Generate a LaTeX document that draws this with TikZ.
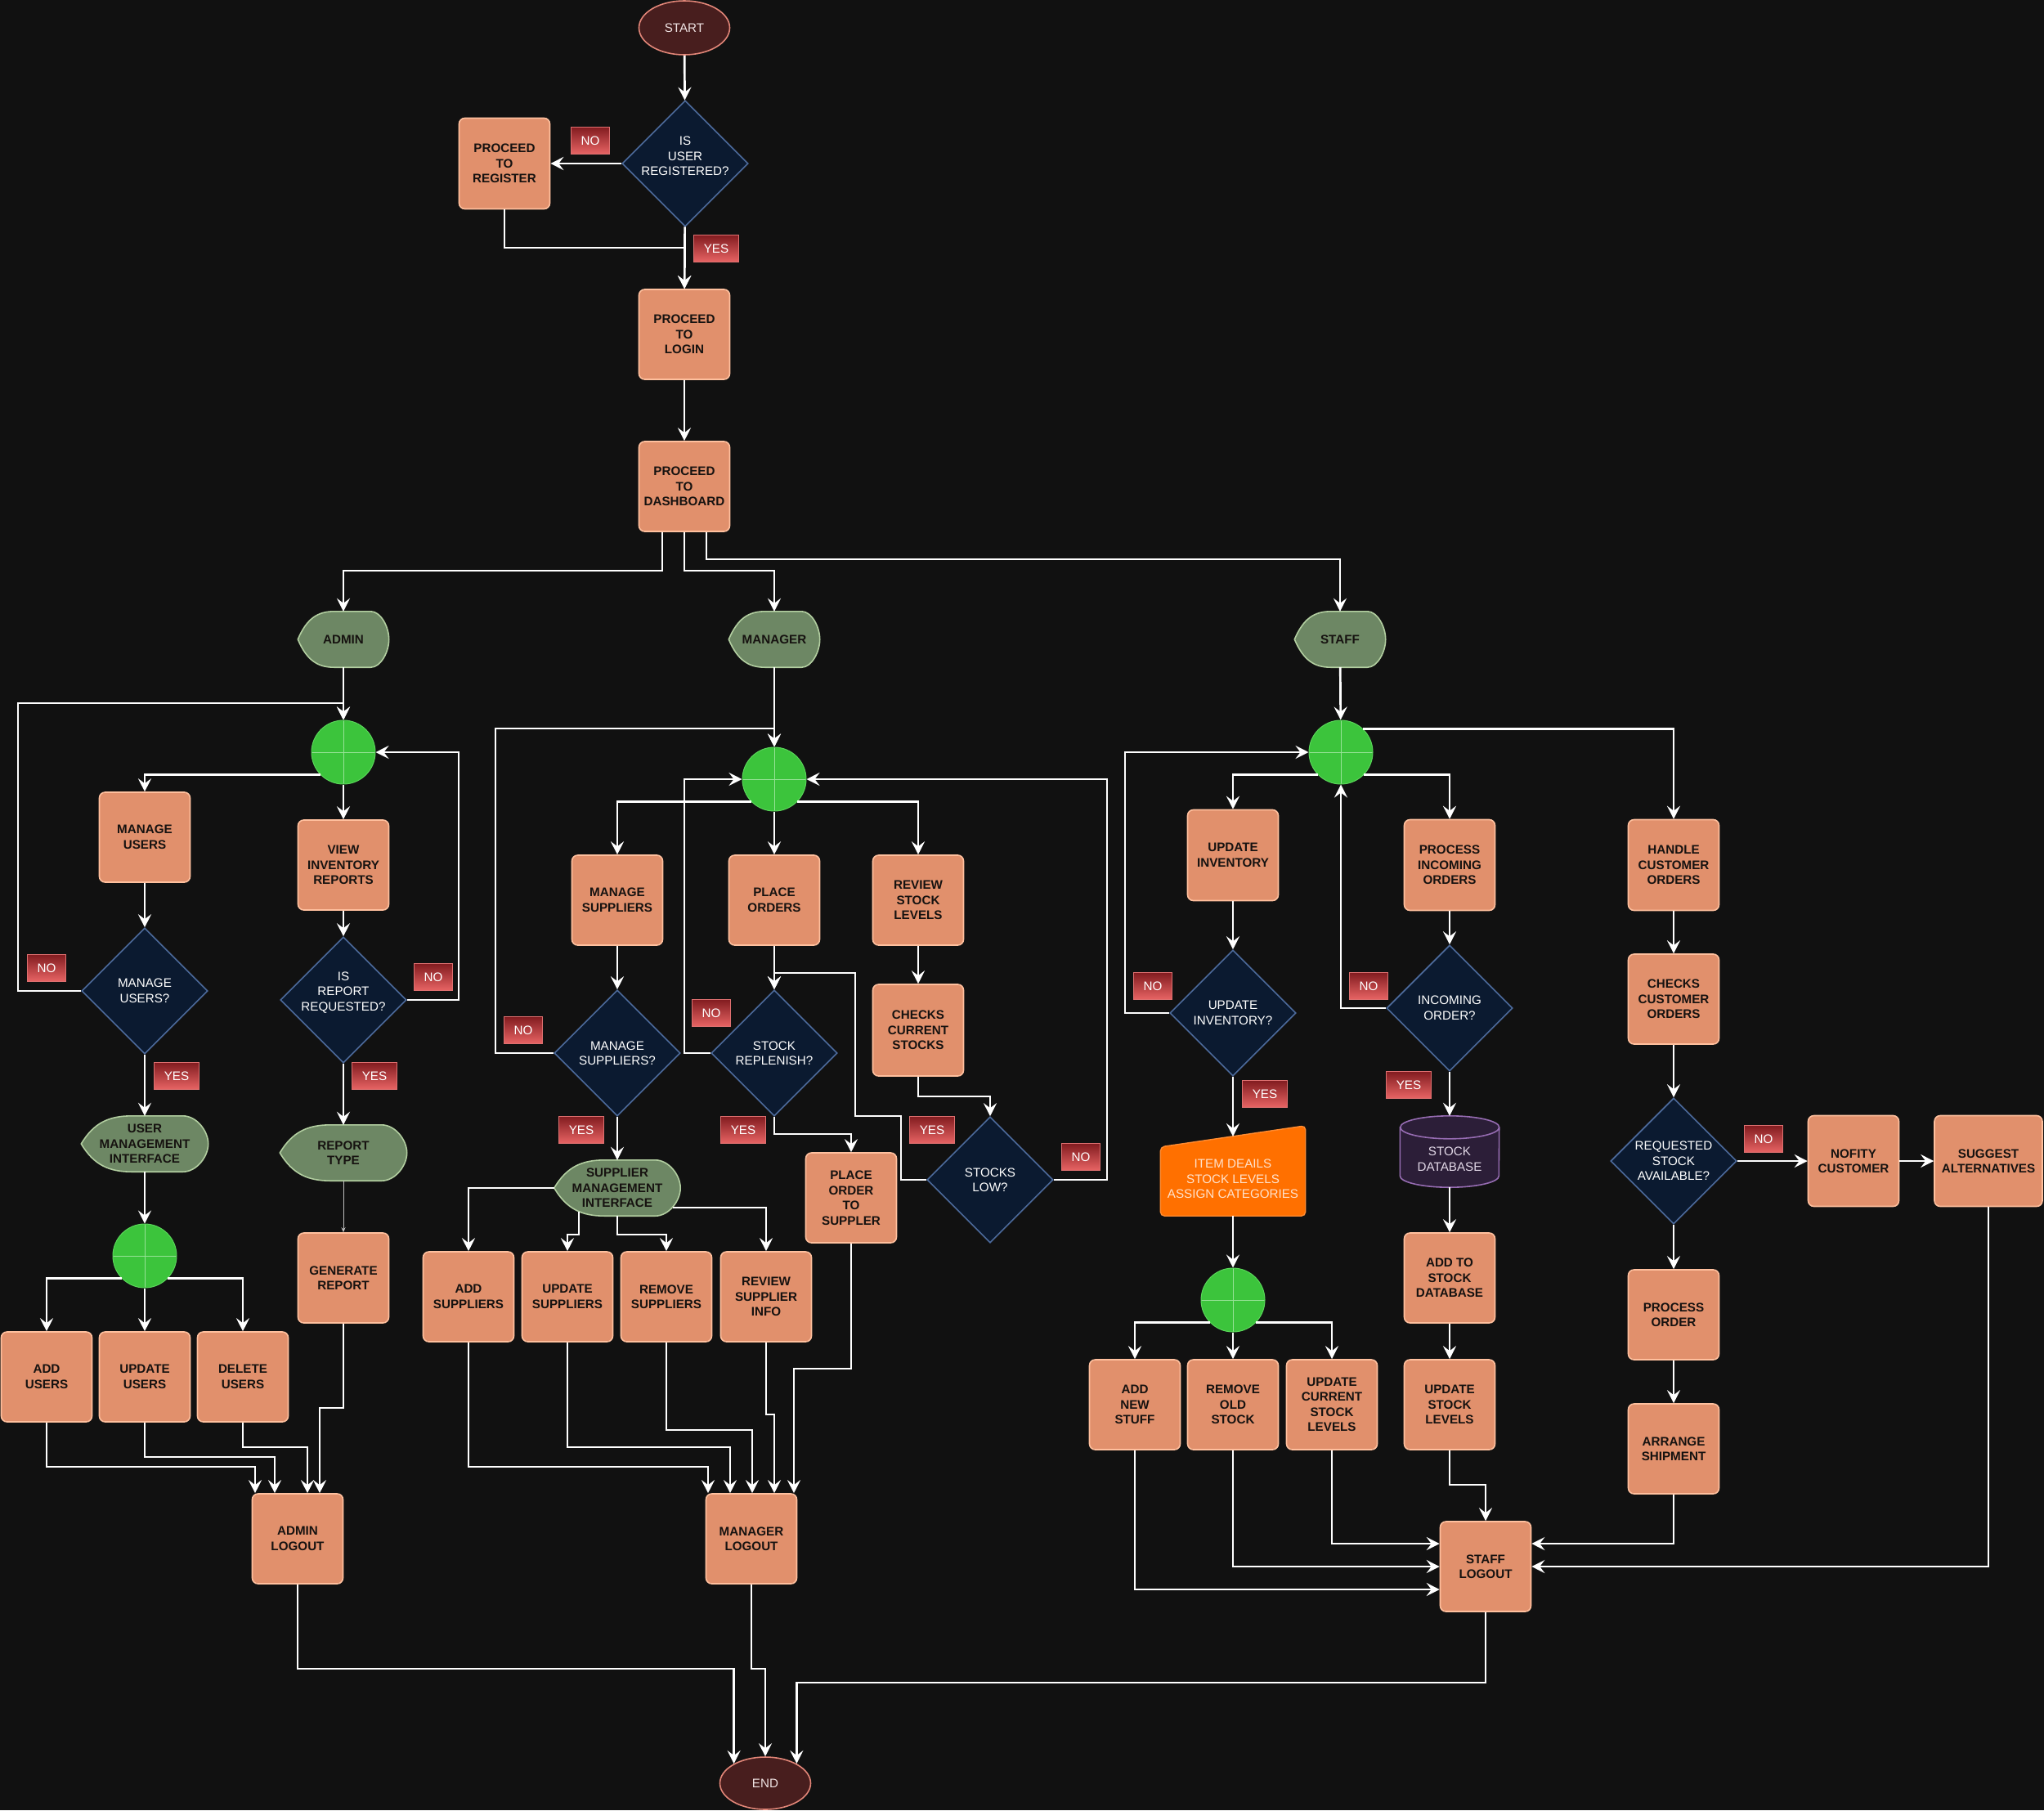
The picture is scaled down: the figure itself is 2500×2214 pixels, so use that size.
\documentclass[tikz,border=0pt]{standalone}
\usepackage{fontspec}
\setmainfont{Liberation Sans}
\usetikzlibrary{shapes.geometric,arrows.meta,calc}

\definecolor{bgdark}{RGB}{17,17,17}
\definecolor{boxfill}{RGB}{225,144,108}
\definecolor{boxedge}{RGB}{255,192,158}
\definecolor{boxink}{RGB}{22,18,16}
\definecolor{qfill}{RGB}{11,26,48}
\definecolor{qedge}{RGB}{76,106,155}
\definecolor{dispfill}{RGB}{109,135,100}
\definecolor{dispedge}{RGB}{178,206,160}
\definecolor{tagtop}{RGB}{130,28,32}
\definecolor{tagbot}{RGB}{232,100,100}
\definecolor{tagedge}{RGB}{222,112,112}
\definecolor{termfill}{RGB}{72,30,30}
\definecolor{termedge}{RGB}{226,134,120}
\definecolor{termink}{RGB}{240,228,228}
\definecolor{hubfill}{RGB}{60,196,60}
\definecolor{hubedge}{RGB}{90,214,90}
\definecolor{hubcross}{RGB}{150,226,150}
\definecolor{itemfill}{RGB}{255,112,0}
\definecolor{itemedge}{RGB}{255,140,50}
\definecolor{itemink}{RGB}{255,226,204}
\definecolor{dbfill}{RGB}{44,30,56}
\definecolor{dbedge}{RGB}{150,108,178}
\definecolor{dbink}{RGB}{225,215,230}

\pgfdeclarelayer{bg}
\pgfdeclarelayer{shapes}
\pgfsetlayers{bg,shapes,main}

\tikzset{
  every node/.style={font=\fontsize{15.2}{18.5}\selectfont, inner sep=0pt},
  box/.style={rectangle, rounded corners=7pt, draw=boxedge, fill=boxfill, line width=1.6pt,
    minimum width=111pt, minimum height=110pt, align=center, text=boxink,
    font=\fontsize{15.2}{18.5}\selectfont\bfseries},
  query/.style={diamond, minimum width=154pt, minimum height=154pt, draw=qedge, fill=qfill, line width=1.6pt},
  qtext/.style={text=white, align=center},
  disp/.style={rectangle, minimum width=111pt, minimum height=68pt, align=center, text=boxink,
    font=\fontsize{15.2}{18.5}\selectfont\bfseries},
  dispshape/.style={draw=dispedge, fill=dispfill, line width=1.6pt},
  hub/.style={circle, minimum size=78pt, draw=hubedge, fill=hubfill, line width=1pt,
    path picture={\draw[hubcross, line width=1pt]
      (path picture bounding box.north) -- (path picture bounding box.south)
      (path picture bounding box.west) -- (path picture bounding box.east);}},
  term/.style={ellipse, minimum width=111pt, minimum height=66pt, draw=termedge, fill=termfill,
    line width=1.6pt, text=termink},
  tag/.style={rectangle, draw=tagedge, line width=1pt, top color=tagtop, bottom color=tagbot,
    minimum height=33pt, inner xsep=12pt, text=white},
  itembox/.style={rectangle, minimum width=177pt, minimum height=90pt, align=center, text=itemink},
  itemshape/.style={draw=itemedge, fill=itemfill, line width=1.4pt, rounded corners=5pt},
  dbbox/.style={rectangle, minimum width=121pt, minimum height=87pt},
  dbtext/.style={text=dbink, align=center, yshift=-9pt},
  dbshape/.style={draw=dbedge, fill=dbfill, line width=1.6pt},
  flow/.style={draw=white, line width=2.7pt, -{Stealth[length=16pt,width=16pt,inset=6pt]}},
  thinflow/.style={draw=white!75!black, line width=0.8pt, -{Stealth[length=6pt,width=5pt]}},
}

\begin{document}
\begin{tikzpicture}[x=1pt, y=-1pt]
  \useasboundingbox (0,0) rectangle (2500,2214);
  \begin{pgfonlayer}{bg}
    \fill[bgdark] (0,0) rectangle (2500,2214);
  \end{pgfonlayer}

  \node[term] (start) at (837,34) {START};
  \node[query, label={[qtext, yshift=9pt]center:{IS\\USER\\REGISTERED?}}] (isreg) at (838,200) {};
  \node[box, minimum height=111pt] (register) at (617,200) {PROCEED\\TO\\REGISTER};
  \node[box] (login) at (837,409) {PROCEED\\TO\\LOGIN};
  \node[box] (dash) at (837,595) {PROCEED\\TO\\DASHBOARD};
  \node[tag] (noreg) at (722,172) {NO};
  \node[tag] (yesreg) at (876,304) {YES};

  \node[disp] (admin) at (420,782) {ADMIN};
  \node[hub] (adminc) at (420,920) {};
  \node[box] (musers) at (177,1024) {MANAGE\\USERS};
  \node[box] (viewrep) at (420,1058) {VIEW\\INVENTORY\\REPORTS};
  \node[query, label={[qtext]center:{MANAGE\\USERS?}}] (musersq) at (177,1212) {};
  \node[query, label={[qtext, yshift=9pt]center:{IS\\REPORT\\REQUESTED?}}] (repq) at (420,1223) {};
  \node[tag] (nomu) at (57,1184) {NO};
  \node[tag] (norep) at (530,1195) {NO};
  \node[tag] (yesmu) at (216,1316) {YES};
  \node[tag] (yesrep) at (458,1316) {YES};
  \node[disp, minimum width=155pt] (umi) at (177,1399) {USER\\MANAGEMENT\\INTERFACE};
  \node[disp, minimum width=155pt] (rtype) at (420,1410) {REPORT\\TYPE};
  \node[hub] (userc) at (177,1536) {};
  \node[box] (addu) at (57,1684) {ADD\\USERS};
  \node[box] (updu) at (177,1684) {UPDATE\\USERS};
  \node[box] (delu) at (297,1684) {DELETE\\USERS};
  \node[box] (genrep) at (420,1563) {GENERATE\\REPORT};
  \node[box] (alogout) at (364,1882) {ADMIN\\LOGOUT};

  \node[disp] (manager) at (947,782) {MANAGER};
  \node[hub] (mgrc) at (947,953) {};
  \node[box] (msup) at (755,1101) {MANAGE\\SUPPLIERS};
  \node[box] (porders) at (947,1101) {PLACE\\ORDERS};
  \node[box] (revstock) at (1123,1101) {REVIEW\\STOCK\\LEVELS};
  \node[query, label={[qtext]center:{MANAGE\\SUPPLIERS?}}] (msupq) at (755,1288) {};
  \node[query, label={[qtext]center:{STOCK\\REPLENISH?}}] (replq) at (947,1288) {};
  \node[box, minimum height=112pt] (checks) at (1123,1260) {CHECKS\\CURRENT\\STOCKS};
  \node[query, label={[qtext]center:{STOCKS\\LOW?}}] (lowq) at (1211,1443) {};
  \node[tag] (nomsup) at (640,1260) {NO};
  \node[tag] (norepl) at (870,1239) {NO};
  \node[tag] (nolow) at (1322,1415) {NO};
  \node[tag] (yesmsup) at (711,1382) {YES};
  \node[tag] (yesrepl) at (909,1382) {YES};
  \node[tag] (yeslow) at (1140,1382) {YES};
  \node[disp, minimum width=154pt] (smi) at (755,1453) {SUPPLIER\\MANAGEMENT\\INTERFACE};
  \node[box] (porder) at (1041,1465) {PLACE\\ORDER\\TO\\SUPPLER};
  \node[box] (addsup) at (573,1586) {ADD\\SUPPLIERS};
  \node[box] (updsup) at (694,1586) {UPDATE\\SUPPLIERS};
  \node[box] (remsup) at (815,1586) {REMOVE\\SUPPLIERS};
  \node[box] (revsup) at (937,1586) {REVIEW\\SUPPLIER\\INFO};
  \node[box] (mlogout) at (919,1882) {MANAGER\\LOGOUT};

  \node[disp] (staff) at (1639,782) {STAFF};
  \node[hub] (staffc) at (1640,920) {};
  \node[box, minimum height=111pt] (updinv) at (1508,1046) {UPDATE\\INVENTORY};
  \node[box, minimum height=111pt] (procin) at (1773,1058) {PROCESS\\INCOMING\\ORDERS};
  \node[box, minimum height=111pt] (handle) at (2047,1058) {HANDLE\\CUSTOMER\\ORDERS};
  \node[query, label={[qtext]center:{UPDATE\\INVENTORY?}}] (updinvq) at (1508,1239) {};
  \node[query, label={[qtext]center:{INCOMING\\ORDER?}}] (inq) at (1773,1233) {};
  \node[tag] (noinv) at (1410,1206) {NO};
  \node[tag] (noin) at (1674,1206) {NO};
  \node[tag] (yesinv) at (1547,1338) {YES};
  \node[tag] (yesin) at (1723,1327) {YES};
  \coordinate (itemtop) at (1508,1390);
  \node[itembox] (items) at (1508,1442) {ITEM DEAILS\\STOCK LEVELS\\ASSIGN CATEGORIES};
  \node[hub] (stockc) at (1508,1590) {};
  \node[box] (addnew) at (1388,1718) {ADD\\NEW\\STUFF};
  \node[box] (remold) at (1508,1718) {REMOVE\\OLD\\STOCK};
  \node[box] (updcur) at (1629,1718) {UPDATE\\CURRENT\\STOCK\\LEVELS};
  \node[dbbox, label={[dbtext]center:{STOCK\\DATABASE}}] (sdb) at (1773,1408.5) {};
  \node[box] (addsdb) at (1773,1563) {ADD TO\\STOCK\\DATABASE};
  \node[box] (updsl) at (1773,1718) {UPDATE\\STOCK\\LEVELS};
  \node[box] (slogout) at (1817,1916) {STAFF\\LOGOUT};
  \node[box] (checkc) at (2047,1222) {CHECKS\\CUSTOMER\\ORDERS};
  \node[query, label={[qtext]center:{REQUESTED\\STOCK\\AVAILABLE?}}] (availq) at (2047,1420) {};
  \node[tag] (noavail) at (2157,1393) {NO};
  \node[box, minimum height=111pt] (notify) at (2267,1420) {NOFITY\\CUSTOMER};
  \node[box, minimum width=132pt, minimum height=111pt] (suggest) at (2432,1420) {SUGGEST\\ALTERNATIVES};
  \node[box] (procord) at (2047,1608) {PROCESS\\ORDER};
  \node[box] (arrange) at (2047,1772) {ARRANGE\\SHIPMENT};

  \node[term, minimum height=64pt] (end) at (936,2181) {END};

  \begin{pgfonlayer}{shapes}
    \foreach \n in {admin,manager,staff,umi,rtype,smi}{
      \draw[dispshape] (\n.west)
        .. controls ($(\n.west)!0.7!(\n.north west)!0.2!(\n.north)$) and ($(\n.north west)!0.22!(\n.north east)$) .. ($(\n.north west)!0.4!(\n.north east)$)
        -- ($(\n.north west)!0.8!(\n.north east)$)
        .. controls ($(\n.north west)!0.91!(\n.north east)$) and ($(\n.north east)!0.55!(\n.east)$) .. (\n.east)
        .. controls ($(\n.south east)!0.55!(\n.east)$) and ($(\n.south west)!0.91!(\n.south east)$) .. ($(\n.south west)!0.8!(\n.south east)$)
        -- ($(\n.south west)!0.4!(\n.south east)$)
        .. controls ($(\n.south west)!0.22!(\n.south east)$) and ($(\n.west)!0.7!(\n.south west)!0.2!(\n.south)$) .. (\n.west) -- cycle;
    }
    \draw[itemshape] (items.south west) -- (items.south east) -- ([yshift=20pt]items.north east)
      -- ([yshift=-6pt]items.north west) -- cycle;
    \draw[dbshape] ([yshift=-14pt]sdb.north west) -- ([yshift=14pt]sdb.south west)
      arc[start angle=180, end angle=360, x radius=60.5pt, y radius=14pt]
      -- ([yshift=-14pt]sdb.north east)
      arc[start angle=0, end angle=180, x radius=60.5pt, y radius=14pt] -- cycle;
    \draw[dbshape, fill=none] ([yshift=-14pt]sdb.north east)
      arc[start angle=0, end angle=-180, x radius=60.5pt, y radius=14pt];
  \end{pgfonlayer}

  \draw[flow] (start) -- (isreg);
  \draw[flow] (isreg) -- (register);
  \draw[flow] (register.south) |- (837,303) -- (login.north);
  \draw[flow] (isreg) -- (login);
  \draw[flow] (login) -- (dash);
  \draw[flow] ([xshift=-27pt]dash.south) |- (420,698) -- (admin.north);
  \draw[flow] (dash.south) |- (947,698) -- (manager.north);
  \draw[flow] ([xshift=27pt]dash.south) |- (1639,684) -- (staff.north);

  \draw[flow] (admin) -- (adminc);
  \draw[flow] (adminc.224) -| (musers.north);
  \draw[flow] (adminc) -- (viewrep);
  \draw[flow] (musers) -- (musersq);
  \draw[flow] (viewrep) -- (repq);
  \draw[flow] (musersq.west) -- (22,1212) |- (420,860) -- (adminc.north);
  \draw[flow] (repq.east) -- (561,1223) |- (adminc.east);
  \draw[flow] (musersq) -- (umi);
  \draw[flow] (repq) -- (rtype);
  \draw[flow] (umi) -- (userc);
  \draw[flow] (userc.224) -| (addu.north);
  \draw[flow] (userc) -- (updu);
  \draw[flow] (userc.316) -| (delu.north);
  \draw[thinflow] (rtype) -- (genrep);
  \draw[flow] (addu.south) -- (57,1794) -| ([xshift=-52pt]alogout.north);
  \draw[flow] (updu.south) -- (177,1782) -| ([xshift=-28pt]alogout.north);
  \draw[flow] (delu.south) -- (297,1770) -| ([xshift=12pt]alogout.north);
  \draw[flow] (genrep.south) -- (420,1722) -| ([xshift=27pt]alogout.north);

  \draw[flow] (manager) -- (mgrc);
  \draw[flow] (mgrc.224) -| (msup.north);
  \draw[flow] (mgrc) -- (porders);
  \draw[flow] (mgrc.316) -| (revstock.north);
  \draw[flow] (msup) -- (msupq);
  \draw[flow] (porders) -- (replq);
  \draw[flow] (revstock) -- (checks);
  \draw[flow] (checks.south) -- (1123,1341) -| (lowq.north);
  \draw[flow] (msupq.west) -- (606,1288) |- (947,891) -- (mgrc.north);
  \draw[flow] (replq.west) -- (837,1288) |- (mgrc.west);
  \draw[flow] (lowq.east) -- (1354,1443) |- (mgrc.east);
  \draw[flow] (lowq.west) -- (1102,1443) |- (1046,1365) |- (947,1190) -- (replq.north);
  \draw[flow] (msupq) -- (smi);
  \draw[flow] (replq.south) -- (947,1387) -| (porder.north);
  \draw[flow] (smi.west) -| (addsup.north);
  \draw[flow] ([xshift=-47pt,yshift=5pt]smi.south) -- (708,1510) -| (updsup.north);
  \draw[flow] (smi.south) -- (755,1510) -| (remsup.north);
  \draw[flow] ([xshift=-9pt,yshift=-24pt]smi.east) -| (revsup.north);
  \draw[flow] (addsup.south) -- (573,1794) -| ([xshift=-53pt]mlogout.north);
  \draw[flow] (updsup.south) -- (694,1770) -| ([xshift=-26pt]mlogout.north);
  \draw[flow] (remsup.south) -- (815,1749) -| ([xshift=1pt]mlogout.north);
  \draw[flow] (revsup.south) -- (937,1730) -| ([xshift=28pt]mlogout.north);
  \draw[flow] (porder.south) -- (1041,1674) -| ([xshift=52pt]mlogout.north);

  \draw[flow] (staff) -- (staffc);
  \draw[flow] (staffc.224) -| (updinv.north);
  \draw[flow] (staffc.316) -| (procin.north);
  \draw[flow] (staffc.46) -| (handle.north);
  \draw[flow] (updinv) -- (updinvq);
  \draw[flow] (procin) -- (inq);
  \draw[flow] (updinvq.west) -- (1376,1239) |- (staffc.west);
  \draw[flow] (inq.west) -| (staffc.south);
  \draw[flow] (updinvq.south) -- (itemtop);
  \draw[flow] (items.south) -- (stockc.north);
  \draw[flow] (stockc.224) -| (addnew.north);
  \draw[flow] (stockc) -- (remold);
  \draw[flow] (stockc.316) -| (updcur.north);
  \draw[flow] (inq) -- (sdb);
  \draw[flow] (sdb) -- (addsdb);
  \draw[flow] (addsdb) -- (updsl);
  \draw[flow] (updsl.south) -- (1773,1816) -| (slogout.north);
  \draw[flow] (addnew.south) |- ([yshift=-28pt]slogout.west);
  \draw[flow] (remold.south) |- (slogout.west);
  \draw[flow] (updcur.south) |- ([yshift=28pt]slogout.west);
  \draw[flow] (handle) -- (checkc);
  \draw[flow] (checkc) -- (availq);
  \draw[flow] (availq) -- (procord);
  \draw[flow] (procord) -- (arrange);
  \draw[flow] (availq) -- (notify);
  \draw[flow] (notify) -- (suggest);
  \draw[flow] (arrange.south) |- ([yshift=28pt]slogout.east);
  \draw[flow] (suggest.south) |- (slogout.east);

  \draw[flow] (alogout.south) -- (364,2041) -| (end.148);
  \draw[flow] (mlogout.south) -- (919,2041) -| (end.north);
  \draw[flow] (slogout.south) -- (1817,2058) -| (end.32);
\end{tikzpicture}
\end{document}
